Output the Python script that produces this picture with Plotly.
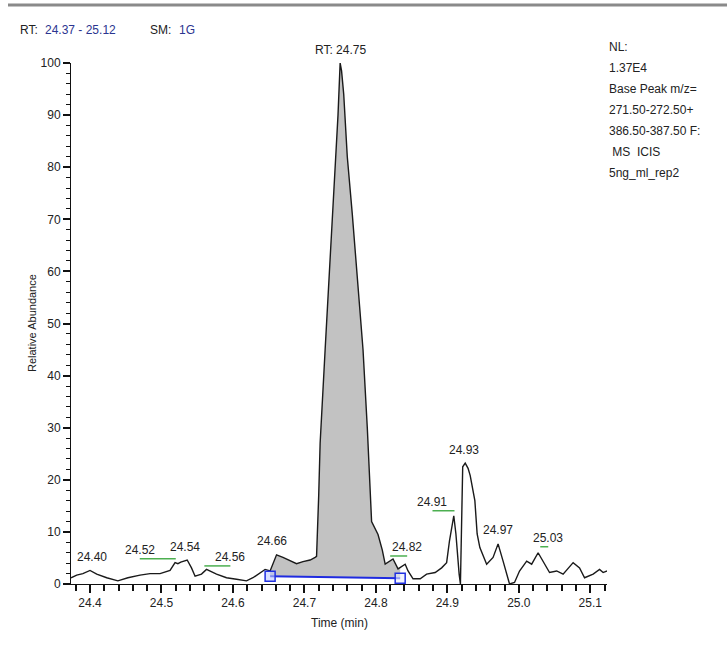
import plotly.graph_objects as go

# Base peak chromatogram: retention time (min) and relative abundance (%)
time_min = [
    24.3734, 24.3814, 24.3900, 24.4000, 24.4094, 24.4234, 24.4390, 24.4530,
    24.4700, 24.4840, 24.4980, 24.5120, 24.5190, 24.5230, 24.5270, 24.5360,
    24.5420, 24.5470, 24.5560, 24.5630, 24.5770, 24.5910, 24.6050, 24.6190,
    24.6280, 24.6450, 24.6520, 24.6610, 24.6700, 24.6800, 24.6890, 24.6980,
    24.7080, 24.7150, 24.7170, 24.7200, 24.7220, 24.7290, 24.7380, 24.7440,
    24.7470, 24.7500, 24.7520, 24.7550, 24.7600, 24.7670, 24.7740, 24.7820,
    24.7880, 24.7920, 24.7940, 24.8030, 24.8090, 24.8130, 24.8240, 24.8310,
    24.8340, 24.8410, 24.8450, 24.8520, 24.8620, 24.8710, 24.8830, 24.8920,
    24.8990, 24.9030, 24.9090, 24.9120, 24.9165, 24.9183, 24.9215, 24.9250,
    24.9290, 24.9320, 24.9385, 24.9417, 24.9455, 24.9550, 24.9640, 24.9710,
    24.9780, 24.9870, 24.9940, 25.0010, 25.0110, 25.0180, 25.0270, 25.0340,
    25.0430, 25.0530, 25.0620, 25.0760, 25.0850, 25.0920, 25.1040, 25.1130,
    25.1180, 25.1234,
]
rel_abund = [
    1.2, 1.7, 2.0, 2.6, 1.9, 1.2, 0.6, 1.2,
    1.7, 2.0, 2.0, 2.6, 4.1, 3.9, 4.2, 4.6,
    3.1, 1.5, 1.9, 2.8, 1.9, 1.2, 0.9, 0.6,
    1.2, 2.8, 2.5, 5.6, 5.1, 4.4, 3.9, 4.3,
    4.6, 5.1, 5.3, 17.0, 27.0, 45.0, 67.0, 81.0,
    90.0, 100.0, 98.5, 94.0, 82.0, 71.0, 59.0, 45.0,
    30.0, 17.0, 12.0, 9.5, 6.5, 3.8, 4.8, 2.9,
    3.2, 3.8, 2.5, 1.0, 1.0, 1.9, 2.2, 3.1,
    4.1, 8.3, 13.1, 9.6, 1.9, 0.0, 22.5, 23.2,
    22.2, 20.8, 16.0, 9.6, 7.0, 3.8, 5.1, 7.7,
    4.4, 0.0, 0.3, 2.5, 4.4, 3.8, 6.0, 4.4,
    2.2, 2.5, 1.9, 4.1, 3.1, 1.2, 1.9, 2.8,
    2.2, 2.5,
]

# Integrated peak: start / end times and baseline levels
integ_time = [24.652, 24.834]
integ_base = [1.5, 1.1]

# Peak apex labels
label_rt = [24.40, 24.52, 24.54, 24.56, 24.66, 24.75, 24.82, 24.91, 24.93, 24.97, 25.03]
label_text = ["24.40", "24.52", "24.54", "24.56", "24.66", "RT: 24.75",
              "24.82", "24.91", "24.93", "24.97", "25.03"]
# label offsets from the apex, in pixels (style)
label_dx = [2, -36, -5, 26, -4, 0, 17, -22, -5, 1, 8]
label_dy = [13, 13, 13, 12.5, 14, 13, 12, 14, 13, 14, 15]

# Header / info block
header_range = "24.37&nbsp;-&nbsp;25.12"
header_sm = "1G"
info_lines = ["NL:", "1.37E4", "Base Peak m/z=", "271.50-272.50+",
              "386.50-387.50 F:", "&nbsp;MS&nbsp;&nbsp;ICIS", "5ng_ml_rep2"]

# x / y axis settings
x_range = [24.3734, 25.1234]
y_range = [0, 100]
x_ticks = [24.4, 24.5, 24.6, 24.7, 24.8, 24.9, 25.0, 25.1]
y_ticks = [0, 10, 20, 30, 40, 50, 60, 70, 80, 90, 100]

W, H = 727, 654
ML, MR, MT, MB = 71, 120, 63, 70
PW, PH = W - ML - MR, H - MT - MB
ppx = PW / (x_range[1] - x_range[0])
ppy = PH / (y_range[1] - y_range[0])

FONT = "Arial, Liberation Sans, sans-serif"


def px_paper(px, py):
    return (px - ML) / PW, (H - MB - py) / PH


def apex(rt, win=0.006):
    vals = [v for t, v in zip(time_min, rel_abund) if abs(t - rt) <= win]
    return max(vals)


fig = go.Figure()

# filled area of the integrated peak
fill_x = [t for t in time_min if integ_time[0] <= t <= integ_time[1]]
fill_y = [v for t, v in zip(time_min, rel_abund) if integ_time[0] <= t <= integ_time[1]]
fig.add_trace(go.Scatter(
    x=fill_x + [integ_time[1], integ_time[0]],
    y=fill_y + [integ_base[1], integ_base[0]],
    fill="toself", fillcolor="#c2c2c2", mode="lines",
    line=dict(width=0, color="rgba(0,0,0,0)"), hoverinfo="skip", showlegend=False,
))

# integration baseline
fig.add_trace(go.Scatter(
    x=integ_time, y=integ_base, mode="lines",
    line=dict(color="#1f2be0", width=2), showlegend=False, hoverinfo="skip",
))

# chromatogram trace
fig.add_trace(go.Scatter(
    x=time_min, y=rel_abund, mode="lines",
    line=dict(color="#1a1a1a", width=1.4), showlegend=False,
))

# start / end markers of the integration
fig.add_trace(go.Scatter(
    x=integ_time, y=integ_base, mode="markers",
    marker=dict(symbol="square", size=10, color=["rgba(190,200,255,0.6)", "rgba(235,238,255,0.6)"],
                line=dict(color="#2030e0", width=1.5)),
    showlegend=False, hoverinfo="skip",
))

annotations = []
shapes = []
for rt, txt, dx, dy in zip(label_rt, label_text, label_dx, label_dy):
    h = apex(rt)
    annotations.append(dict(
        x=rt, y=h, xref="x", yref="y", text=txt, showarrow=False,
        xshift=dx, yshift=dy, xanchor="center", yanchor="middle",
        font=dict(family=FONT, size=12, color="#222222"),
    ))
    if abs(dx) >= 8:
        yl = h + (dy - 9) / ppy
        shapes.append(dict(
            type="line", xref="x", yref="y",
            x0=rt, x1=rt + dx / ppx, y0=yl, y1=yl,
            line=dict(color="#4caf50", width=1.5),
        ))

# header
for txt, px, col in [("RT:", 18, "#222222"), (header_range, 43, "#2b3590"),
                     ("SM:", 148, "#222222"), (header_sm, 177, "#2b3590")]:
    xp, yp = px_paper(px, 30)
    annotations.append(dict(
        x=xp, y=yp, xref="paper", yref="paper", text=txt, showarrow=False,
        xanchor="left", yanchor="middle",
        font=dict(family=FONT, size=12, color=col),
    ))

# info block on the right
for i, txt in enumerate(info_lines):
    xp, yp = px_paper(607, 47 + i * 21)
    annotations.append(dict(
        x=xp, y=yp, xref="paper", yref="paper", text=txt, showarrow=False,
        xanchor="left", yanchor="middle",
        font=dict(family=FONT, size=12, color="#222222"),
    ))

# axis titles
xp, yp = px_paper(339, 632)
annotations.append(dict(x=xp, y=yp, xref="paper", yref="paper", text="Time (min)",
                        showarrow=False, font=dict(family=FONT, size=12, color="#222222")))
xp, yp = px_paper(24, 323)
annotations.append(dict(x=xp, y=yp, xref="paper", yref="paper", text="Relative Abundance",
                        showarrow=False, textangle=-90,
                        font=dict(family=FONT, size=11, color="#222222")))

# top rule
x0p, y0p = px_paper(8, 5)
x1p, _ = px_paper(727, 5)
shapes.append(dict(type="line", xref="paper", yref="paper", x0=x0p, x1=x1p, y0=y0p, y1=y0p,
                   line=dict(color="#8a8a8a", width=3)))

fig.update_layout(
    width=W, height=H,
    margin=dict(l=ML, r=MR, t=MT, b=MB),
    plot_bgcolor="white", paper_bgcolor="white",
    annotations=annotations, shapes=shapes,
    xaxis=dict(
        range=x_range, tickvals=x_ticks, ticktext=[f"{v:.1f}" for v in x_ticks],
        showline=True, linecolor="#111111", linewidth=1, ticks="outside",
        ticklen=8, tickwidth=1.5, tickcolor="#111111", showgrid=False, zeroline=False,
        tickfont=dict(family=FONT, size=12, color="#222222"),
        minor=dict(dtick=0.02, tick0=24.38, ticks="outside", ticklen=6, tickwidth=1.5,
                   tickcolor="#111111", showgrid=False),
    ),
    yaxis=dict(
        range=y_range, tickvals=y_ticks, showline=True, linecolor="#111111", linewidth=1,
        ticks="outside", ticklen=7, tickwidth=1.5, tickcolor="#111111",
        showgrid=False, zeroline=False,
        tickfont=dict(family=FONT, size=12, color="#222222"),
        minor=dict(dtick=2, tick0=0, ticks="outside", ticklen=4, tickwidth=1,
                   tickcolor="#111111", showgrid=False),
    ),
)

fig.write_html("out.html")
